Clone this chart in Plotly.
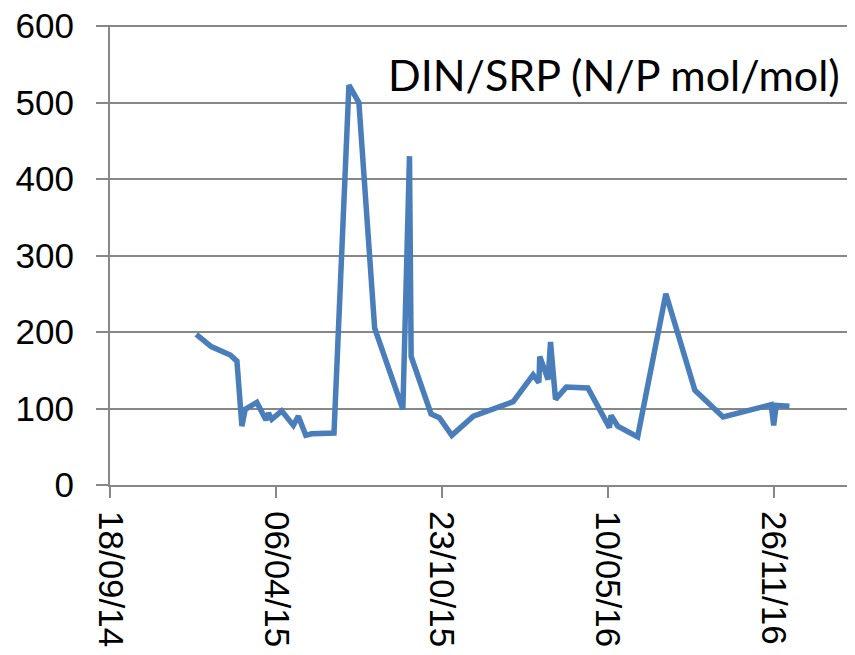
import plotly.graph_objects as go

dates = [
    "2014-12-31", "2015-01-18", "2015-02-10", "2015-02-18", "2015-02-24", "2015-02-28",
    "2015-03-14", "2015-03-25", "2015-03-28", "2015-04-01", "2015-04-13", "2015-04-27",
    "2015-05-03", "2015-05-12", "2015-05-19", "2015-06-15", "2015-07-03", "2015-07-15",
    "2015-08-03", "2015-09-06", "2015-09-14", "2015-09-16", "2015-10-10", "2015-10-20",
    "2015-11-04", "2015-11-30", "2016-01-17", "2016-02-10", "2016-02-17", "2016-02-18",
    "2016-02-28", "2016-03-02", "2016-03-08", "2016-03-21", "2016-04-16", "2016-05-12",
    "2016-05-14", "2016-05-22", "2016-06-15", "2016-07-19", "2016-08-23", "2016-09-26",
    "2016-11-23", "2016-11-26", "2016-11-29", "2016-12-15",
]
din_srp = [
    197, 181, 170, 162, 77, 99,
    108, 85, 94, 86, 97, 78,
    90, 65, 67, 68, 523, 500,
    205, 99, 430, 168, 93, 88,
    65, 90, 109, 144, 134, 168,
    138, 187, 112, 128, 127, 75,
    91, 77, 63, 250, 124, 89,
    105, 78, 104, 103,
]
title_text = "DIN/SRP (N/P mol/mol)"
x_start = "2014-09-18"
x_end = "2017-03-04"
y_ticks = [0, 100, 200, 300, 400, 500, 600]

fig = go.Figure()
fig.add_trace(go.Scatter(
    x=dates, y=din_srp, mode="lines",
    line=dict(color="#4a7ebb", width=5.5, shape="linear"),
    showlegend=False,
))

grid_col = "#878787"
# page body has an 8px margin, so the figure is offset by 8px
fig.update_layout(
    width=847, height=648,
    margin=dict(l=102, r=0, t=17, b=171),
    paper_bgcolor="white", plot_bgcolor="white",
    font=dict(family="Liberation Sans, Arial", size=35, color="black"),
    xaxis=dict(
        type="date", range=[x_start, x_end], automargin=False,
        tick0=x_start, dtick=200 * 86400000, tickformat="%d/%m/%y",
        tickangle=90, ticks="outside", ticklen=11, tickwidth=2, tickcolor=grid_col,
        showline=True, linecolor=grid_col, linewidth=2,
        showgrid=False, zeroline=False,
        ticklabelstandoff=6, ticklabeloverflow="allow",
    ),
    yaxis=dict(
        range=[0, 601.5], tickvals=y_ticks, automargin=False,
        ticks="outside", ticklen=12, tickwidth=2, tickcolor=grid_col,
        showline=True, linecolor=grid_col, linewidth=2,
        showgrid=True, gridcolor=grid_col, gridwidth=2,
        zeroline=False, ticklabelstandoff=15, ticklabeloverflow="allow",
    ),
    annotations=[dict(
        text=title_text, xref="paper", yref="paper",
        x=(842 - 110) / 745, y=(484 - 73) / 461,
        xanchor="right", yanchor="middle", showarrow=False,
        font=dict(family="Lato", size=43, color="black"),
    )],
)

fig.write_html("out.html")
